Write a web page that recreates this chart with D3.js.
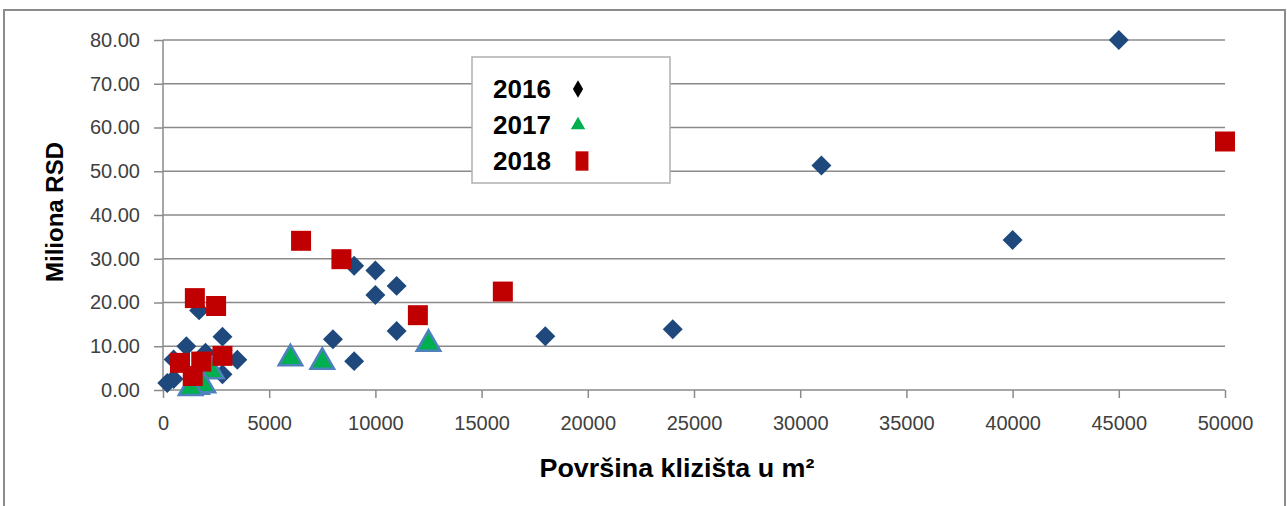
<!DOCTYPE html>
<html>
<head>
<meta charset="utf-8">
<script src="https://cdn.jsdelivr.net/npm/d3@7"></script>
<style>
  body { margin: 0; background: #fff; }
  text { font-family: "Liberation Sans", Arial, sans-serif; }
</style>
</head>
<body>
<div id="chart"></div>
<script>
var width = 1287
var height = 506

// 2016 series
const x2016 = [45000, 31000, 40000, 24000, 18000, 11000, 10000, 9000, 10000, 11000, 8000, 9000, 3500, 2800, 2800, 1100, 500, 1700, 2000, 200, 500]
const y2016 = [80.0, 51.3, 34.3, 13.9, 12.3, 23.8, 27.3, 28.4, 21.7, 13.5, 11.6, 6.6, 6.9, 12.2, 3.6, 10.0, 7.0, 18.2, 8.5, 1.6, 2.5]
// 2017 series
const x2017 = [6000, 7500, 12500, 2300, 1600, 1900, 1300]
const y2017 = [8.0, 7.2, 11.3, 5.0, 1.5, 1.8, 1.2]
// 2018 series
const x2018 = [50000, 6500, 8400, 16000, 12000, 1500, 2500, 800, 1800, 2800, 1400]
const y2018 = [56.8, 34.1, 29.9, 22.5, 17.1, 21.0, 19.2, 6.2, 6.5, 7.8, 3.2]

const legendLabels = ["2016", "2017", "2018"]
const xTicks = [0, 5000, 10000, 15000, 20000, 25000, 30000, 35000, 40000, 45000, 50000]
const yTicks = [0, 10, 20, 30, 40, 50, 60, 70, 80]

var svg = d3.select("#chart").append("svg")
    .attr("width", width)
    .attr("height", height)

// outer chart frame
svg.append("rect")
    .attr("x", 4).attr("y", 10)
    .attr("width", width - 6).attr("height", height + 10)
    .attr("fill", "none")
    .attr("stroke", "#8c8c8c")
    .attr("stroke-width", 2)

const margin = {top: 40, right: 62, bottom: 116, left: 163}
const innerWidth = width - margin.left - margin.right
const innerHeight = height - margin.top - margin.bottom

const xScale = d3.scaleLinear().domain([0, 50000]).range([0, innerWidth])
const yScale = d3.scaleLinear().domain([0, 80]).range([innerHeight, 0])

const g = svg.append("g")
    .attr("transform", `translate(${margin.left}, ${margin.top})`)

// gridlines
g.append("g").selectAll("line").data(yTicks.filter(d => d > 0)).enter()
    .append("line")
    .attr("x1", 0).attr("x2", innerWidth)
    .attr("y1", d => yScale(d)).attr("y2", d => yScale(d))
    .attr("stroke", "#8a8a8a").attr("stroke-width", 1.3)

const yAxis = d3.axisLeft(yScale).tickValues(yTicks)
    .tickFormat(d3.format(".2f")).tickSize(9).tickPadding(14)
const xAxis = d3.axisBottom(xScale).tickValues(xTicks)
    .tickFormat(d3.format("d")).tickSize(8).tickPadding(18)

const yg = g.append("g").call(yAxis)
const xg = g.append("g").call(xAxis)
    .attr("transform", `translate(0, ${innerHeight})`)

;[yg, xg].forEach(a => {
    a.selectAll("path, line").attr("stroke", "#8a8a8a").attr("stroke-width", 1.5)
    a.selectAll("text").attr("fill", "#404040")
        .style("font-size", "20px")
        .style("font-family", "'Liberation Sans', Arial, sans-serif")
})
yg.select(".domain").attr("d", `M0,0V${innerHeight}`)
xg.select(".domain").attr("d", `M0,0H${innerWidth}`)

// axis titles
svg.append("text")
    .attr("transform", `translate(63, ${margin.top + innerHeight / 2 - 3}) rotate(-90)`)
    .attr("text-anchor", "middle")
    .style("font-size", "24px").style("font-weight", "bold")
    .text("Miliona  RSD")

svg.append("text")
    .attr("x", 677).attr("y", 477)
    .attr("text-anchor", "middle")
    .style("font-size", "26px").style("font-weight", "bold")
    .attr("textLength", 275).attr("lengthAdjust", "spacingAndGlyphs")
    .text("Površina klizišta u m²")

const diamond = d3.symbol().type(d3.symbolSquare).size(200)
const triangle = d3.symbol().type(d3.symbolTriangle).size(240)
const square = d3.symbol().type(d3.symbolSquare).size(400)

const toPts = (xs, ys) => xs.map((x, i) => ({x: x, y: ys[i]}))

g.append("g").selectAll("path").data(toPts(x2016, y2016)).enter()
    .append("path")
    .attr("d", diamond)
    .attr("transform", d => `translate(${xScale(d.x)}, ${yScale(d.y)}) rotate(45)`)
    .attr("fill", "#1f497d")

g.append("g").selectAll("path").data(toPts(x2017, y2017)).enter()
    .append("path")
    .attr("d", triangle)
    .attr("transform", d => `translate(${xScale(d.x)}, ${yScale(d.y) + 3.4})`)
    .attr("fill", "#00b050")
    .attr("stroke", "#4f81bd")
    .attr("stroke-width", 2.5)

g.append("g").selectAll("path").data(toPts(x2018, y2018)).enter()
    .append("path")
    .attr("d", square)
    .attr("transform", d => `translate(${xScale(d.x)}, ${yScale(d.y)})`)
    .attr("fill", "#c00000")

// legend
const lg = svg.append("g").attr("transform", "translate(472, 57)")
lg.append("rect")
    .attr("width", 198).attr("height", 126)
    .attr("fill", "#fff").attr("stroke", "#b0b0b0").attr("stroke-width", 1.5)

const legendMarks = [
    d3.symbol().type(d3.symbolDiamond).size(90),
    d3.symbol().type(d3.symbolTriangle).size(90),
    d3.symbol().type(d3.symbolSquare).size(260)
]
const legendColors = ["#000000", "#00b050", "#c00000"]

legendLabels.forEach((lab, i) => {
    const yy = 41 + i * 36
    lg.append("text")
        .attr("x", 21).attr("y", yy)
        .style("font-size", "26px").style("font-weight", "bold")
        .attr("fill", "#000")
        .text(lab)
    lg.append("path")
        .attr("d", legendMarks[i])
        .attr("transform", `translate(${106 + (i === 2 ? 4 : 0)}, ${yy - 9}) ${i === 2 ? "scale(0.8,1.2)" : ""}`)
        .attr("fill", legendColors[i])
})
</script>
</body>
</html>
